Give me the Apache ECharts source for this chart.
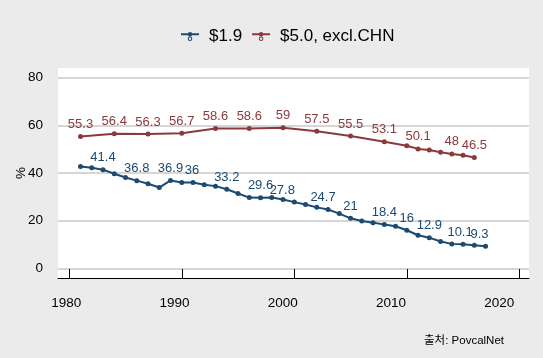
<!DOCTYPE html>
<html><head><meta charset="utf-8">
<script src="https://cdn.jsdelivr.net/npm/echarts@6/dist/echarts.min.js"></script>
<style>html,body{margin:0;padding:0;background:#ebebeb}#c{width:543px;height:358px}</style>
</head><body><div id="c"></div>
<script>
const seriesNames = ['$1.9', '$5.0, excl.CHN'];
const years19 = [1981,1982,1983,1984,1985,1986,1987,1988,1989,1990,1991,1992,1993,1994,1995,1996,1997,1998,1999,2000,2001,2002,2003,2004,2005,2006,2007,2008,2009,2010,2011,2012,2013,2014,2015,2016,2017];
const values19 = [42.7,42.2,41.4,39.7,38.1,36.8,35.5,33.9,36.9,36.0,36.0,35.1,34.5,33.2,31.4,29.7,29.6,29.7,28.9,27.8,26.8,25.6,24.7,23.0,21.0,19.9,19.2,18.4,17.7,16.0,13.9,12.9,11.3,10.3,10.1,9.7,9.3];
const labelYears19 = [1983,1986,1989,1991,1994,1997,2000,2003,2005,2008,2010,2012,2015,2017];
const years50 = [1981,1984,1987,1990,1993,1996,1999,2002,2005,2008,2010,2011,2012,2013,2014,2015,2016];
const values50 = [55.3,56.4,56.3,56.7,58.6,58.6,59.0,57.5,55.5,53.1,51.4,50.1,49.6,48.7,48.0,47.4,46.5];
const labelYears50 = [1981,1984,1987,1990,1993,1996,1999,2002,2005,2008,2011,2014,2016];
const xTicks = [1980,1990,2000,2010,2020];
const yTicks = [0,20,40,60,80];
const caption = '출처: PovcalNet';

const colors = ['#1d4a70', '#8b3a3c'];
const FONT = "'Liberation Sans', Arial, 'Noto Sans CJK KR', sans-serif";
// small horizontal nudges of some labels (as in the reference's repelled labels)
const nudge19 = {1991: -1, 2000: -12, 2003: -5, 2015: -3, 2017: -6};

function buildData(years, vals, labelYears, nudge) {
  return years.map((y, i) => {
    const show = labelYears.indexOf(y) >= 0;
    const item = {value: [y, vals[i]], label: {show: show}};
    if (show && nudge && nudge[y]) item.label.offset = [nudge[y], 0];
    return item;
  });
}

const icon = 'path://M0,2L18,2L18,4L0,4Z M6.8,3a2.2,2.2 0 1,1 4.4,0a2.2,2.2 0 1,1 -4.4,0z M6.7,7.5a2.3,2.3 0 1,1 4.6,0a2.3,2.3 0 1,1 -4.6,0z M7.8,7.5a1.2,1.2 0 1,0 2.4,0a1.2,1.2 0 1,0 -2.4,0z';

const chart = echarts.init(document.getElementById('c'), null, {renderer: 'canvas'});
chart.setOption({
  animation: false,
  backgroundColor: '#ebebeb',
  textStyle: {fontFamily: FONT},
  title: {
    text: caption, right: 34, top: 330,
    textStyle: {fontSize: 11.5, fontWeight: 'normal', color: '#000', fontFamily: FONT}
  },
  legend: {
    top: 23, left: 176, itemGap: 10, itemWidth: 18, itemHeight: 9,
    icon: icon,
    textStyle: {fontSize: 17, color: '#000', fontFamily: FONT, padding: [0, 0, 0, 5]},
    data: seriesNames
  },
  grid: {left: 58, right: 14, top: 68, bottom: 80, show: true, backgroundColor: '#ffffff', borderWidth: 0},
  xAxis: [{
    type: 'value', min: 1979, max: 2020.86,
    axisLine: {show: true, onZero: false, lineStyle: {color: '#000', width: 1}},
    axisTick: {show: true, inside: true, length: 9, customValues: xTicks, lineStyle: {color: '#000', width: 1}},
    axisLabel: {show: false},
    splitLine: {show: false}
  }, {
    type: 'value', min: 1979.23, max: 2022.74, position: 'bottom',
    axisLine: {show: false}, axisTick: {show: false},
    axisLabel: {show: true, customValues: xTicks, margin: 19, fontSize: 13.5, color: '#000', fontFamily: FONT,
                formatter: v => String(v)},
    splitLine: {show: false}
  }],
  yAxis: {
    type: 'value', min: -4, max: 84,
    name: '%', nameLocation: 'middle', nameRotate: 90, nameGap: 30, nameMoveOverlap: false,
    nameTextStyle: {fontSize: 13.5, color: '#000', fontFamily: FONT},
    axisLine: {show: false},
    axisTick: {show: false, customValues: yTicks},
    axisLabel: {customValues: yTicks, fontSize: 13.5, color: '#000', margin: 15, fontFamily: FONT,
                formatter: v => String(v)},
    splitLine: {show: true, lineStyle: {color: '#c8c8c8', width: 1.6}}
  },
  series: [{
    name: seriesNames[0], type: 'line', xAxisIndex: 0,
    data: buildData(years19, values19, labelYears19, nudge19),
    symbol: 'circle', symbolSize: 5, color: colors[0],
    lineStyle: {width: 2, color: colors[0]},
    itemStyle: {color: colors[0]},
    label: {position: 'top', distance: 3, fontSize: 13, color: colors[0], fontFamily: FONT,
            formatter: p => String(p.value[1])}
  }, {
    name: seriesNames[1], type: 'line', xAxisIndex: 0,
    data: buildData(years50, values50, labelYears50, null),
    symbol: 'circle', symbolSize: 5, color: colors[1],
    lineStyle: {width: 2, color: colors[1]},
    itemStyle: {color: colors[1]},
    label: {position: 'top', distance: 3, fontSize: 13, color: colors[1], fontFamily: FONT,
            formatter: p => String(p.value[1])}
  }]
});
</script></body></html>
